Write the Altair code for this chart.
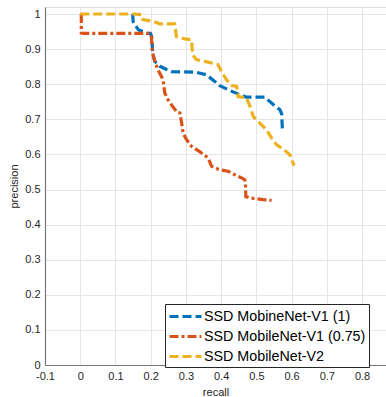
import altair as alt
import pandas as pd

series_names = ["SSD MobineNet-V1 (1)", "SSD MobileNet-V1 (0.75)", "SSD MobileNet-V2"]
series_colors = ["#0072BD", "#D95319", "#EDB120"]

v1_recall = [0.149, 0.150, 0.152, 0.165, 0.190, 0.199, 0.203, 0.206, 0.212, 0.226,
             0.245, 0.260, 0.330, 0.358, 0.382, 0.396, 0.425, 0.453, 0.472, 0.524,
             0.548, 0.567, 0.572, 0.574]
v1_precision = [1.000, 0.980, 0.975, 0.955, 0.945, 0.945, 0.936, 0.885, 0.865, 0.851,
                0.842, 0.836, 0.834, 0.827, 0.808, 0.796, 0.782, 0.770, 0.763, 0.763,
                0.742, 0.727, 0.715, 0.666]

v075_recall = [0.003, 0.003, 0.010, 0.197, 0.202, 0.205, 0.207, 0.212, 0.221, 0.235,
               0.240, 0.249, 0.262, 0.275, 0.283, 0.288, 0.292, 0.302, 0.316, 0.339,
               0.363, 0.373, 0.396, 0.420, 0.439, 0.458, 0.467, 0.469, 0.470, 0.481,
               0.519, 0.543]
v075_precision = [1.000, 0.946, 0.945, 0.945, 0.936, 0.889, 0.884, 0.862, 0.841, 0.813,
                  0.775, 0.756, 0.737, 0.720, 0.718, 0.689, 0.660, 0.642, 0.623, 0.608,
                  0.590, 0.566, 0.556, 0.552, 0.542, 0.533, 0.528, 0.514, 0.480, 0.476,
                  0.471, 0.469]

v2_recall = [0.000, 0.150, 0.174, 0.178, 0.207, 0.226, 0.268, 0.273, 0.297, 0.316,
             0.319, 0.330, 0.363, 0.391, 0.401, 0.415, 0.430, 0.444, 0.448, 0.472,
             0.482, 0.491, 0.510, 0.529, 0.543, 0.557, 0.581, 0.595, 0.607]
v2_precision = [1.000, 1.000, 0.998, 0.984, 0.979, 0.972, 0.972, 0.936, 0.929, 0.927,
                0.884, 0.870, 0.863, 0.856, 0.836, 0.813, 0.796, 0.794, 0.765, 0.761,
                0.737, 0.708, 0.689, 0.670, 0.647, 0.628, 0.611, 0.599, 0.568]

x_ticks = [-0.1, 0.0, 0.1, 0.2, 0.3, 0.4, 0.5, 0.6, 0.7, 0.8]
y_ticks = [0.0, 0.1, 0.2, 0.3, 0.4, 0.5, 0.6, 0.7, 0.8, 0.9, 1.0]

rows = []
for name, rs, ps in zip(series_names,
                        [v1_recall, v075_recall, v2_recall],
                        [v1_precision, v075_precision, v2_precision]):
    for i, (r, p) in enumerate(zip(rs, ps)):
        rows.append({"series": name, "recall": r, "precision": p, "order": i})
df = pd.DataFrame(rows)

FONT = "Liberation Sans"
TXT = "#262626"
num_expr = "datum.value < 0 ? '-' + format(-datum.value, '.1~f') : format(datum.value, '.1~f')"
nbsp = chr(160) * 7

legend = alt.Legend(
    title=None, orient="none", legendX=120, legendY=297,
    symbolType="M-2,0H2", symbolSize=256, symbolStrokeWidth=3, symbolOffset=8,
    labelFont=FONT, labelFontSize=14.3, labelColor="#000000", labelOffset=9,
    labelLimit=400, labelExpr="datum.label + '" + nbsp + "'",
    strokeColor="#262626", fillColor="white", padding=3, rowPadding=3,
)

chart = alt.Chart(df).mark_line(strokeWidth=3.2).encode(
    x=alt.X("recall:Q", scale=alt.Scale(domain=[-0.1, 0.868], nice=False, zero=False),
            axis=alt.Axis(title="recall", values=x_ticks, labelExpr=num_expr,
                          labelFont=FONT, labelFontSize=11, labelColor=TXT,
                          titleFont=FONT, titleFontSize=11, titleFontWeight="normal",
                          titleColor=TXT, titlePadding=5, labelPadding=5,
                          tickSize=0, domainColor="#777777", domainWidth=1.2,
                          gridColor="#e6e6e6", labelFlush=False)),
    y=alt.Y("precision:Q", scale=alt.Scale(domain=[0, 1.02], nice=False, zero=False),
            axis=alt.Axis(title="precision", values=y_ticks, labelExpr=num_expr,
                          labelFont=FONT, labelFontSize=11, labelColor=TXT,
                          titleFont=FONT, titleFontSize=11, titleFontWeight="normal",
                          titleColor=TXT, titleX=-31, titleY=179, titleBaseline="middle",
                          labelPadding=5, tickSize=0, domainColor="#777777",
                          domainWidth=1.2, gridColor="#e6e6e6", labelFlush=False)),
    color=alt.Color("series:N", scale=alt.Scale(domain=series_names, range=series_colors),
                    legend=legend),
    strokeDash=alt.StrokeDash("series:N",
                              scale=alt.Scale(domain=series_names,
                                              range=[[9, 4], [9, 3, 3, 3], [9, 4]]),
                              legend=legend),
    order=alt.Order("order:Q"),
).properties(
    width=341, height=358,
    autosize=alt.AutoSizeParams(type="none"),
    padding={"left": 45, "top": 7, "right": 0, "bottom": 32},
).configure_view(stroke=None).configure(background="white")

chart.save("out.html", embed_options={"renderer": "svg", "actions": False})
